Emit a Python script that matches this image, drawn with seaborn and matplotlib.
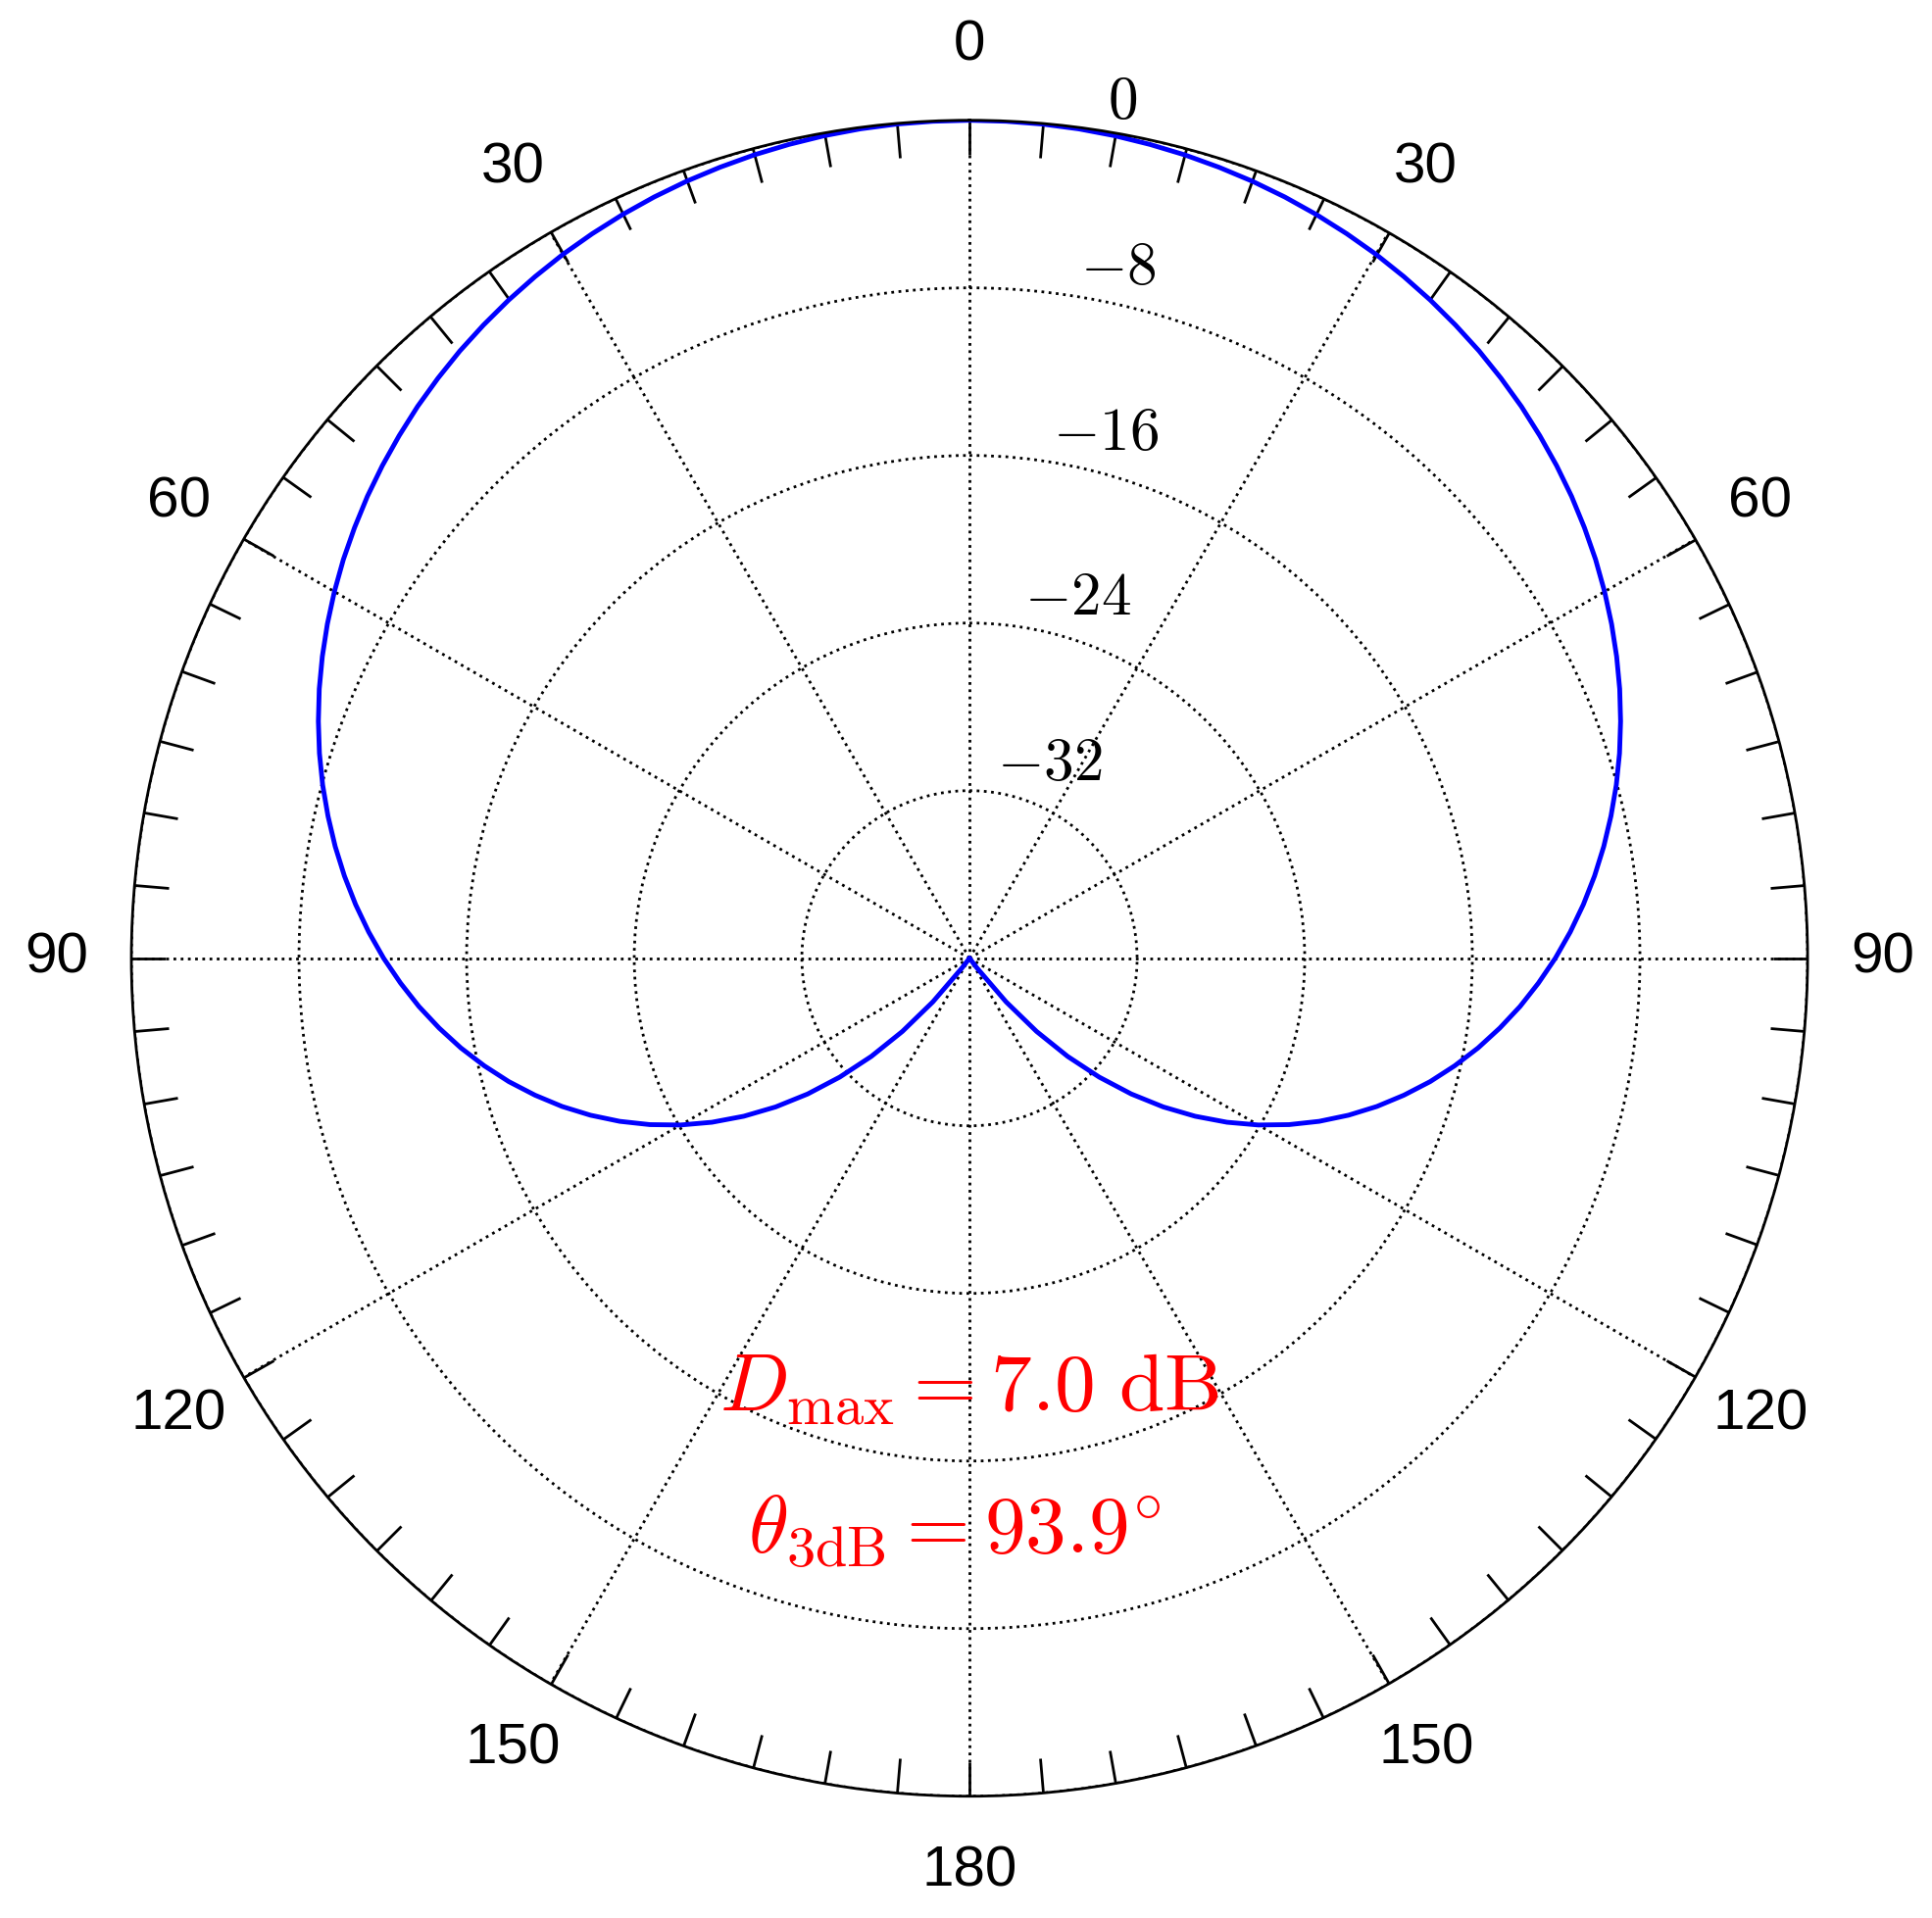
import numpy as np
import matplotlib
matplotlib.use('Agg')
import matplotlib.pyplot as plt
import seaborn as sns

# Diagramm (dB) odczytany co 2.5 stopnia, 0..180, symetryczny
angles_deg = [0, 2.5, 5, 7.5, 10, 12.5, 15, 17.5, 20, 22.5, 25, 27.5, 30, 32.5, 35, 37.5,
              40, 42.5, 45, 47.5, 50, 52.5, 55, 57.5, 60, 62.5, 65, 67.5, 70, 72.5, 75,
              77.5, 80, 82.5, 85, 87.5, 90, 92.5, 95, 97.5, 100, 102.5, 105, 107.5, 110,
              112.5, 115, 117.5, 120, 122.5, 125, 127.5, 130, 132.5, 135, 137.5, 140,
              142.5, 145, 150, 160, 170, 180]
gain_db = [0.0, -0.01, -0.03, -0.07, -0.13, -0.21, -0.30, -0.41, -0.53, -0.67, -0.83,
           -1.01, -1.20, -1.42, -1.65, -1.90, -2.16, -2.45, -2.75, -3.08, -3.42, -3.78,
           -4.17, -4.57, -5.00, -5.45, -5.92, -6.41, -6.93, -7.47, -8.04, -8.64, -9.26,
           -9.91, -10.59, -11.30, -12.04, -12.82, -13.62, -14.47, -15.35, -16.28, -17.24,
           -18.26, -19.31, -20.42, -21.58, -22.80, -24.08, -25.43, -26.85, -28.34, -29.92,
           -31.60, -33.37, -35.26, -37.28, -39.43, -40.0, -40.0, -40.0, -40.0, -40.0]
r_ticks = [-32, -24, -16, -8, 0]
theta_labels = ['0', '30', '60', '90', '120', '150', '180', '150', '120', '90', '60', '30']

sns.set_style('white')
plt.rcParams['font.family'] = ['Liberation Sans', 'DejaVu Sans']
plt.rcParams['mathtext.fontset'] = 'cm'
plt.rcParams['text.color'] = 'black'
plt.rcParams['xtick.color'] = 'black'
plt.rcParams['ytick.color'] = 'black'

# pełne 360 stopni przez odbicie lustrzane
th_full = np.concatenate([-np.deg2rad(angles_deg[::-1]), np.deg2rad(angles_deg[1:])])
r_full = np.concatenate([gain_db[::-1], gain_db[1:]])

fig = plt.figure(figsize=(19.71, 19.57), dpi=100)
ax = fig.add_axes([0.068, 0.0634, 0.8676, 0.874], projection='polar')
ax.set_theta_zero_location('N')
ax.set_theta_direction(-1)
ax.set_ylim(-40, 0)

sns.lineplot(x=th_full, y=r_full, ax=ax, color='blue', linewidth=3.5, sort=False,
             estimator=None)

ax.set_xticks(np.deg2rad(np.arange(0, 360, 30)))
ax.set_xticklabels(theta_labels, fontsize=42)
ax.set_xticks(np.deg2rad(np.arange(0, 360, 5)), minor=True)
ax.tick_params(axis='x', which='both', direction='in', length=25, width=2, pad=48,
               bottom=False, top=True, labelbottom=True, labeltop=False,
               labelcolor='black', color='black')
ax.set_yticks(r_ticks)
ax.set_yticklabels([r'$\mathbf{%d}$' % v for v in r_ticks], fontsize=44)
ax.tick_params(axis='y', labelcolor='black', pad=0)
ax.set_rlabel_position(9.5)
ax.grid(True, color='black', linestyle=':', linewidth=2)
ax.spines['polar'].set_linewidth(2)
ax.spines['polar'].set_color('black')
ax.set_xlabel('')
ax.set_ylabel('')

fig.text(0.502, 0.276, r'$D_{\rm max} = 7.0\ {\rm dB}$', color='red', fontsize=60,
         ha='center', va='center')
fig.text(0.494, 0.202, r'$\theta_{\rm 3dB} = 93.9^{\circ}$', color='red', fontsize=60,
         ha='center', va='center')

fig.savefig('out.png', dpi=100)
